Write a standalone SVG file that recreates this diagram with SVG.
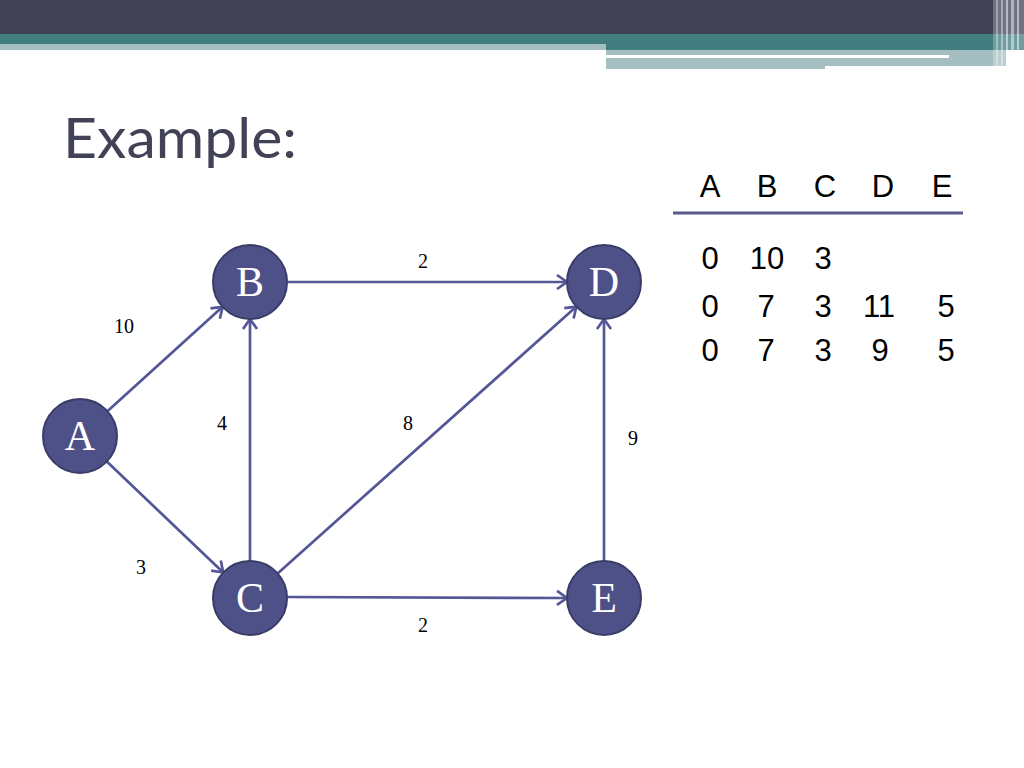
<svg xmlns="http://www.w3.org/2000/svg" width="1024" height="768" viewBox="0 0 1024 768">
<defs>
<style>
.node circle{fill:#4E5088;stroke:#3A3C68;stroke-width:2}
.node text{font-family:"Liberation Serif",serif;font-size:42px;fill:#ffffff;text-anchor:middle}
.edge{stroke:#545696;stroke-width:2.7;fill:none;marker-end:url(#arr)}
.lbl{font-family:"Liberation Serif",serif;font-size:20px;fill:#000;text-anchor:middle}
.tb{font-family:"Liberation Sans",Arial,sans-serif;font-size:31px;fill:#000;text-anchor:middle}
</style>
<marker id="arr" markerUnits="userSpaceOnUse" markerWidth="14" markerHeight="16" refX="11" refY="8" orient="auto" overflow="visible">
<path d="M1,1 L11,8 L1,15" fill="none" stroke="#545696" stroke-width="2.7"/>
</marker>
</defs>
<rect width="1024" height="768" fill="#ffffff"/>
<g id="banner">
<rect x="0" y="0" width="1024" height="34" fill="#424257"/>
<rect x="0" y="34" width="1024" height="10" fill="#427D80"/>
<rect x="0" y="44" width="606" height="6" fill="#A5BEC1"/>
<rect x="606" y="44" width="418" height="6" fill="#427D80"/>
<rect x="606" y="50" width="400" height="5" fill="#A5BEC1"/>
<rect x="606" y="55" width="343" height="3" fill="#ffffff"/>
<rect x="949" y="55" width="57" height="3" fill="#A5BEC1"/>
<rect x="606" y="58" width="219" height="11" fill="#A5BEC1"/>
<rect x="825" y="58" width="181" height="8" fill="#A5BEC1"/>
<rect x="993" y="0" width="31" height="69" fill="#ffffff" opacity="0.25"/>
<rect x="996" y="0" width="2" height="69" fill="#ffffff" opacity="0.35"/>
<rect x="1001" y="0" width="2" height="69" fill="#ffffff" opacity="0.4"/>
<rect x="1006" y="0" width="2" height="69" fill="#ffffff" opacity="0.5"/>
<rect x="1011" y="0" width="3" height="69" fill="#ffffff" opacity="0.45"/>
<rect x="1017" y="0" width="2" height="69" fill="#ffffff" opacity="0.5"/>
</g>
<text x="63" y="158" font-family="Lato,'Open Sans',sans-serif" font-size="57" fill="#424257" textLength="234" lengthAdjust="spacingAndGlyphs">Example:</text>
<g id="connectors">
<line class="edge" x1="107.4" y1="411.2" x2="222.6" y2="306.8"/>
<line class="edge" x1="106.8" y1="461.5" x2="223.2" y2="572.5"/>
<line class="edge" x1="250" y1="561" x2="250" y2="319"/>
<line class="edge" x1="287" y1="282" x2="567" y2="282"/>
<line class="edge" x1="277.6" y1="573.4" x2="576.4" y2="306.6"/>
<line class="edge" x1="287" y1="597" x2="567" y2="598"/>
<line class="edge" x1="604" y1="561" x2="604" y2="319"/>
<text class="lbl" x="423" y="268">2</text>
<text class="lbl" x="124" y="333">10</text>
<text class="lbl" x="222" y="430">4</text>
<text class="lbl" x="408" y="430">8</text>
<text class="lbl" x="633" y="445">9</text>
<text class="lbl" x="141" y="574">3</text>
<text class="lbl" x="423" y="632">2</text>
</g>
<g id="node-A" class="node"><circle cx="80" cy="436" r="37"/><text x="80" y="450">A</text></g>
<g id="node-B" class="node"><circle cx="250" cy="282" r="37"/><text x="250" y="296">B</text></g>
<g id="node-C" class="node"><circle cx="250" cy="598" r="37"/><text x="250" y="612">C</text></g>
<g id="node-D" class="node"><circle cx="604" cy="282" r="37"/><text x="604" y="296">D</text></g>
<g id="node-E" class="node"><circle cx="604" cy="598" r="37"/><text x="604" y="612">E</text></g>
<g id="table">
<text class="tb" x="710" y="197">A</text>
<text class="tb" x="767" y="197">B</text>
<text class="tb" x="825" y="197">C</text>
<text class="tb" x="883" y="197">D</text>
<text class="tb" x="942" y="197">E</text>
<line x1="673" y1="213" x2="963" y2="213" stroke="#585A8A" stroke-width="3"/>
<text class="tb" x="710" y="269">0</text>
<text class="tb" x="767" y="269">10</text>
<text class="tb" x="823" y="269">3</text>
<text class="tb" x="710" y="317">0</text>
<text class="tb" x="766" y="317">7</text>
<text class="tb" x="823" y="317">3</text>
<text class="tb" x="879" y="317">11</text>
<text class="tb" x="946" y="317">5</text>
<text class="tb" x="710" y="361">0</text>
<text class="tb" x="766" y="361">7</text>
<text class="tb" x="823" y="361">3</text>
<text class="tb" x="880" y="361">9</text>
<text class="tb" x="946" y="361">5</text>
</g>
</svg>
